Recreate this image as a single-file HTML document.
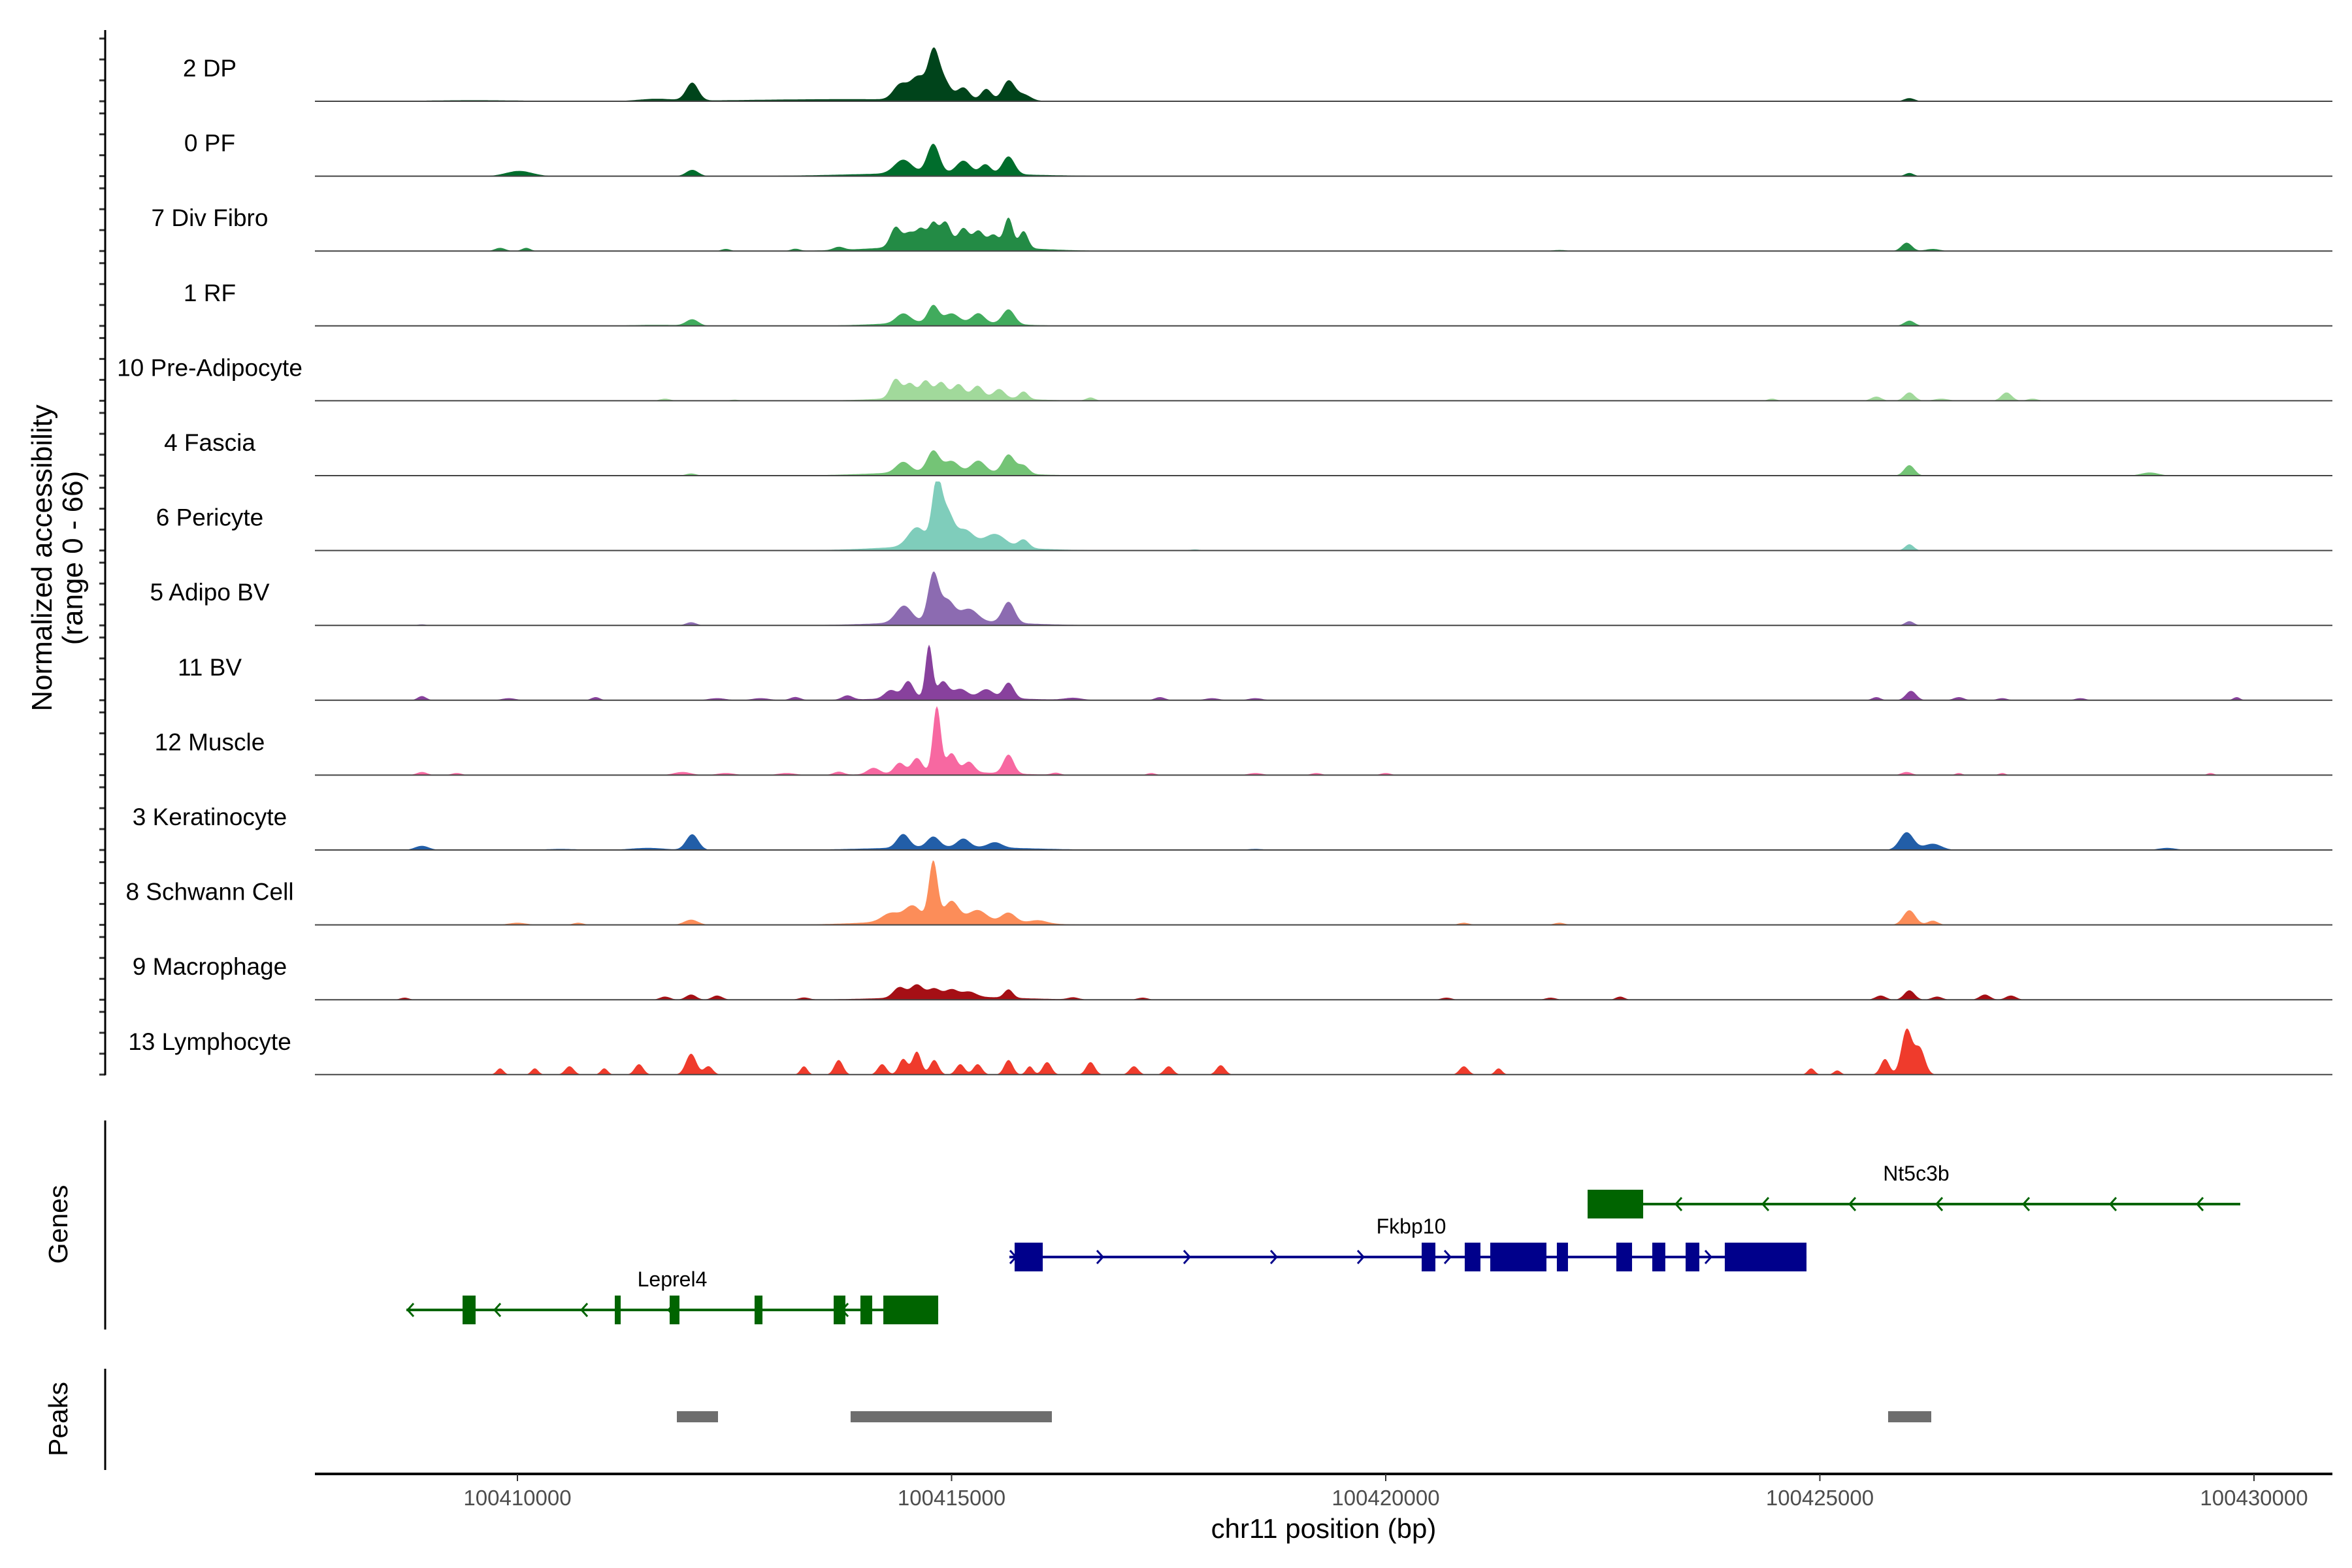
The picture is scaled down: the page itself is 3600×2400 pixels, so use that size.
<!DOCTYPE html>
<html><head><meta charset="utf-8"><style>
html,body{margin:0;padding:0;background:#fff;}
svg{display:block;font-family:"Liberation Sans",Arial,sans-serif;}
</style></head><body>
<svg id="chart" width="3600" height="2400" viewBox="0 0 3600 2400" xmlns="http://www.w3.org/2000/svg">
<g id="tracks"></g>
<g id="yaxis"></g>
<text transform="translate(79,854) rotate(-90)" text-anchor="middle" font-size="44" fill="#000">Normalized accessibility</text>
<text transform="translate(126,854) rotate(-90)" text-anchor="middle" font-size="44" fill="#000">(range 0 - 66)</text>
<g id="genes"></g>
<line x1="161" y1="1715" x2="161" y2="2035" stroke="#000" stroke-width="3"/>
<text transform="translate(103,1874) rotate(-90)" text-anchor="middle" font-size="41" fill="#000">Genes</text>
<g id="peaks"></g>
<line x1="161" y1="2095" x2="161" y2="2250" stroke="#000" stroke-width="3"/>
<text transform="translate(103,2172) rotate(-90)" text-anchor="middle" font-size="41" fill="#000">Peaks</text>
<g id="xaxis"></g>
<text x="2026" y="2354" text-anchor="middle" font-size="42" fill="#000">chr11 position (bp)</text>
</svg>
<script>
const trackNames = ["2 DP","0 PF","7 Div Fibro","1 RF","10 Pre-Adipocyte","4 Fascia","6 Pericyte","5 Adipo BV","11 BV","12 Muscle","3 Keratinocyte","8 Schwann Cell","9 Macrophage","13 Lymphocyte"];
const trackColors = ["#00441b","#006d2c","#238b45","#41ab5d","#a1d99b","#74c476","#7fcdbb","#8c6bb1","#88419d","#f768a1","#225ea8","#fc8d59","#a50f15","#ef3b2c"];
const xTicks = [100410000,100415000,100420000,100425000,100430000];
const xTickLabels = ["100410000","100415000","100420000","100425000","100430000"];
const yMax = 66;
// peaks per track: [position bp, height, width bp]
const peaksDP = [[100412013,17,70],[100414407,14,80],[100414615,22,90],[100414789,39,60],[100414900,20,80],[100415136,12,70],[100415400,11,60],[100415656,19,70],[100415830,6,80],[100426031,3,60],[100413800,2,1200],[100409500,1,600],[100411600,2,200]];
const peaksPF = [[100410020,5,150],[100412013,6,70],[100414442,13,100],[100414789,28,70],[100415136,12,80],[100415390,9,60],[100415656,17,70],[100414800,3,900],[100426031,3,50]];
const peaksDiv = [[100414355,19,60],[100414510,12,60],[100414650,16,60],[100414789,20,50],[100414928,22,60],[100415136,16,60],[100415309,14,60],[100415483,11,60],[100415656,28,50],[100415830,16,50],[100415000,6,700],[100409800,3,60],[100410100,3,50],[100412400,2,50],[100413200,2,50],[100413700,3,60],[100426000,8,60],[100426300,2,80],[100422000,1,80]];
const peaksRF = [[100412013,6,70],[100414442,9,80],[100414789,16,60],[100415000,8,80],[100415309,9,70],[100415656,14,70],[100414900,4,600],[100426031,5,60],[100411600,1,300]];
const peaksPre = [[100414355,18,60],[100414520,13,60],[100414700,15,60],[100414880,13,60],[100415080,11,60],[100415300,10,60],[100415550,8,60],[100415830,7,50],[100415000,5,600],[100411700,2,60],[100412500,1,60],[100416600,3,50],[100425650,4,60],[100426031,8,60],[100426400,2,80],[100427150,8,60],[100427450,2,60],[100424450,2,50]];
const peaksFascia = [[100414442,10,80],[100414789,20,70],[100415000,10,80],[100415309,11,80],[100415656,18,70],[100415830,8,60],[100414900,4,700],[100426031,10,60],[100428800,3,100],[100412000,2,60]];
const peaksPeri = [[100414600,18,100],[100414830,59,55],[100414950,30,70],[100415150,15,100],[100415500,12,120],[100415830,8,60],[100415000,5,700],[100426031,6,50],[100417800,1,60]];
const peaksAdipoBV = [[100414450,16,90],[100414789,45,60],[100414950,20,80],[100415200,12,100],[100415656,20,70],[100415000,4,700],[100412000,3,60],[100426031,4,50],[100408900,1,50]];
const peaksBV = [[100413800,4,60],[100414300,8,70],[100414500,16,60],[100414740,50,40],[100414900,15,60],[100415100,8,80],[100415400,8,80],[100415656,15,60],[100415000,3,700],[100408900,4,50],[100409900,2,80],[100410900,3,50],[100412300,2,100],[100412800,2,100],[100413200,3,60],[100416400,2,100],[100417400,3,60],[100418000,2,80],[100418500,2,80],[100425650,3,50],[100426050,9,60],[100426600,3,60],[100427100,2,60],[100428000,2,60],[100429800,3,40]];
const peaksMuscle = [[100414100,6,70],[100414400,10,60],[100414600,14,60],[100414830,63,45],[100415000,18,60],[100415200,10,60],[100415656,18,60],[100415000,3,600],[100408900,3,60],[100409300,2,60],[100411900,3,100],[100412400,2,100],[100413100,2,100],[100413700,3,60],[100416200,2,50],[100417300,2,50],[100418500,2,80],[100419200,2,60],[100420000,2,60],[100426000,3,60],[100426600,2,40],[100427100,2,40],[100429500,2,40]];
const peaksKera = [[100408900,4,80],[100412013,15,70],[100414442,13,70],[100414789,10,70],[100415136,8,70],[100415500,5,80],[100426000,17,80],[100426300,6,100],[100415000,3,800],[100410500,1,200],[100411500,2,200],[100418500,1,100],[100429000,2,100]];
const peaksSchwann = [[100412000,5,80],[100414300,8,100],[100414550,14,90],[100414789,56,50],[100415000,18,80],[100415300,10,100],[100415656,9,80],[100416000,3,100],[100414900,5,700],[100426031,14,70],[100426300,4,60],[100410000,2,100],[100410700,2,60],[100420900,2,60],[100422000,2,60]];
const peaksMac = [[100414400,10,70],[100414600,12,70],[100414800,8,70],[100415000,7,70],[100415656,8,50],[100415200,5,80],[100415000,3,700],[100412000,5,60],[100412300,4,60],[100411700,3,60],[100408700,2,50],[100426031,9,60],[100425700,4,60],[100426350,3,60],[100426900,5,60],[100427200,4,60],[100420700,2,60],[100421900,2,60],[100422700,3,50],[100417200,2,60],[100416400,2,60],[100413300,2,60]];
const peaksLymph = [[100426000,43,60],[100426150,25,60],[100425750,15,50],[100412000,20,60],[100412200,8,50],[100413700,14,50],[100414200,10,50],[100414442,15,50],[100414600,22,50],[100414800,14,50],[100415100,10,50],[100415300,10,50],[100415656,14,50],[100416100,12,50],[100416600,12,50],[100417100,8,50],[100417500,8,50],[100418100,9,50],[100411400,10,50],[100411000,6,40],[100410600,8,50],[100410200,6,40],[100409800,6,40],[100420900,8,50],[100421300,6,40],[100424900,6,40],[100425200,4,40],[100415900,8,40],[100413300,8,40]];
const trackPeaks = [peaksDP,peaksPF,peaksDiv,peaksRF,peaksPre,peaksFascia,peaksPeri,peaksAdipoBV,peaksBV,peaksMuscle,peaksKera,peaksSchwann,peaksMac,peaksLymph];
// genes
const geneNames = ["Nt5c3b","Fkbp10","Leprel4"];
const geneStrand = [-1,1,-1];
const geneStart = [100422325,100415666,100408721];
const geneEnd = [100429842,100424846,100414846];
const geneExons = [
 [[100422325,100422965]],
 [[100415726,100416050],[100420414,100420572],[100420910,100421091],[100421204,100421851],[100421971,100422099],[100422656,100422837],[100423070,100423220],[100423454,100423612],[100423905,100424846]],
 [[100409368,100409518],[100411121,100411189],[100411753,100411866],[100412731,100412822],[100413642,100413777],[100413950,100414086],[100414214,100414846]]
];
const geneColors = ["#006400","#00008b","#006400"];
const peakStarts = [100411836,100413837,100425786];
const peakEnds = [100412310,100416155,100426283];

const NS="http://www.w3.org/2000/svg";
const X0=482, X1=3570, BP0=100410000, PXBP=0.1329;
function xScale(bp){return 792+(bp-BP0)*PXBP;}
const TRACK_TOP=155, TRACK_STEP=114.6, PX_UNIT=1.6;
function yScale(i,v){return TRACK_TOP+i*TRACK_STEP - v*PX_UNIT;}
function mk(tag,attrs,parent){const e=document.createElementNS(NS,tag);for(const k in attrs)e.setAttribute(k,attrs[k]);parent.appendChild(e);return e;}

const tg=document.getElementById('tracks');
const ya=document.getElementById('yaxis');
trackNames.forEach((name,i)=>{
  const g=mk('g',{},tg);
  
  
  const pk=trackPeaks[i];
  let d='M'+X0+','+yScale(i,0);
  for(let px=X0;px<=X1;px+=2){
    const bp=BP0+(px-792)/PXBP;
    let v=0;
    for(const p of pk){const z=(bp-p[0])/p[2];if(Math.abs(z)<4)v+=p[1]*Math.exp(-0.5*z*z);}
    v=Math.min(v,yMax);
    if(v<0.4)v=0;
    d+='L'+px+','+yScale(i,v).toFixed(1);
  }
  d+='L'+X1+','+yScale(i,0)+'Z';
  const a=mk('path',{d:d,fill:trackColors[i]},g);
  
  
  const bl=mk('line',{x1:X0,x2:X1,y1:yScale(i,0),y2:yScale(i,0),stroke:'#444','stroke-width':2},g);
  
  
  const t=mk('text',{x:321,y:yScale(i,0)-38,'text-anchor':'middle','font-size':37,fill:'#000'},g);
  t.textContent=name;
  
  
  for(let k=0;k<4;k++){
    const ty=yScale(i,k*20);
    const tk=mk('line',{x1:152,x2:161,y1:ty,y2:ty,stroke:'#333','stroke-width':3},ya);
    
    
  }
});
const yl=mk('line',{x1:161,x2:161,y1:46,y2:yScale(13,0)+1,stroke:'#000','stroke-width':3},ya);



// genes
const gg=document.getElementById('genes');
const geneY=[1843,1924,2005];
const geneLabelX=[2933,2160,1029];
geneNames.forEach((n,i)=>{
  const g=mk('g',{},gg);
  
  
  const c=geneColors[i], y=geneY[i];
  const x1=xScale(geneStart[i]), x2=xScale(geneEnd[i]);
  const ln=mk('line',{x1:x1,x2:x2,y1:y,y2:y,stroke:c,'stroke-width':4},g);
  
  
  for(let ax=(geneStrand[i]<0?x1+2:x1+10); ax<x2-20; ax+=133){
    const dx=geneStrand[i]<0?9:-9;
    const ar=mk('path',{d:`M${ax+dx},${y-10}L${ax},${y}L${ax+dx},${y+10}`,fill:'none',stroke:c,'stroke-width':3},g);
    
    
  }
  geneExons[i].forEach(e=>{
    const r=mk('rect',{x:xScale(e[0]),y:y-22,width:xScale(e[1])-xScale(e[0]),height:44,fill:c},g);
    
    
  });
  const t=mk('text',{x:geneLabelX[i],y:y-36,'text-anchor':'middle','font-size':32,fill:'#000'},g);
  t.textContent=n;
  
  
});

// peaks
const pg=document.getElementById('peaks');
peakStarts.forEach((s,i)=>{
  const r=mk('rect',{x:xScale(s),y:2160,width:xScale(peakEnds[i])-xScale(s),height:17,fill:'#6e6e6e'},pg);
  
  
});

// x axis
const xg=document.getElementById('xaxis');
const xl=mk('line',{x1:X0,x2:X1,y1:2256,y2:2256,stroke:'#000','stroke-width':4},xg);


xTicks.forEach((t,i)=>{
  const tk=mk('line',{x1:xScale(t),x2:xScale(t),y1:2256,y2:2267,stroke:'#333','stroke-width':2},xg);
  
  
  const tl=mk('text',{x:xScale(t),y:2304,'text-anchor':'middle','font-size':33,fill:'#4d4d4d'},xg);
  tl.textContent=xTickLabels[i];
  
  
});
</script>
</body></html>
